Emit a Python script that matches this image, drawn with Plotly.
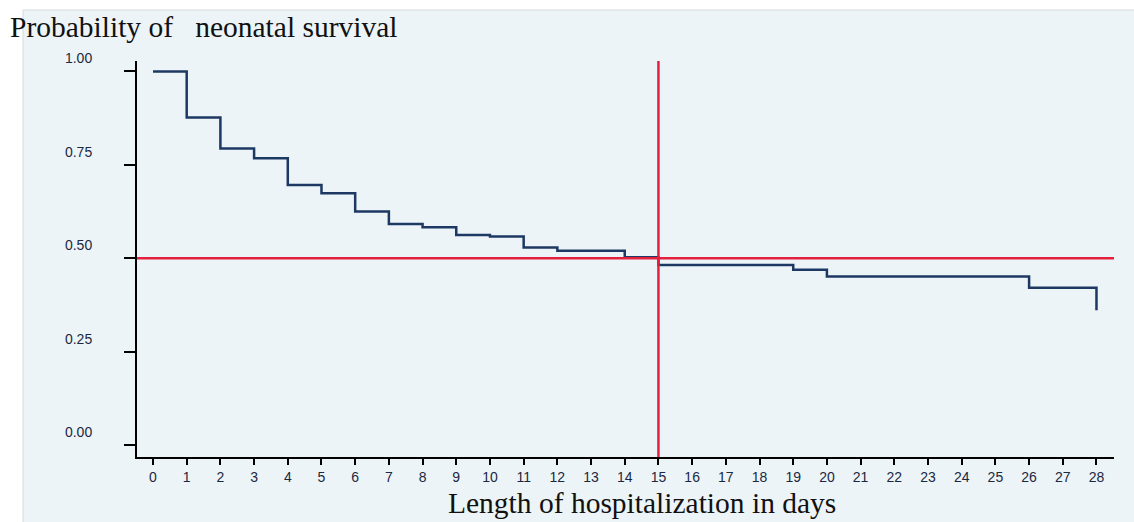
import plotly.graph_objects as go

# Data
days = list(range(0, 29))
survival = [1.000, 0.877, 0.794, 0.768, 0.696, 0.674, 0.625, 0.592, 0.583, 0.562,
            0.558, 0.529, 0.520, 0.520, 0.503, 0.482, 0.482, 0.482, 0.482, 0.469,
            0.451, 0.451, 0.451, 0.451, 0.451, 0.451, 0.421, 0.421, 0.361]
y_ticks = [0.0, 0.25, 0.5, 0.75, 1.0]
y_tick_labels = ["0.00", "0.25", "0.50", "0.75", "1.00"]
x_ticks = list(range(0, 29))
median_day = 15
median_prob = 0.5

W, H = 1134, 522
L, R, T, B = 137, 20, 61, 65
pw, ph = W - L - R, H - T - B

def px(xpix):
    return (xpix - L) / pw

def py(ypix):
    return (H - B - ypix) / ph

fig = go.Figure()
fig.add_trace(go.Scatter(x=days, y=survival, mode="lines", line_shape="hv",
                         line=dict(color="#1d3963", width=2.5), showlegend=False,
                         hoverinfo="skip"))

shapes = [
    # light blue background panel
    dict(type="rect", xref="paper", yref="paper", x0=px(23), x1=px(W + 5), y0=py(H + 5), y1=py(10),
         fillcolor="#ecf4f7", line=dict(color="#d3dbde", width=1), layer="below"),
    # median lines
    dict(type="line", xref="paper", yref="y", x0=0, x1=1, y0=median_prob, y1=median_prob,
         line=dict(color="#e3203e", width=2.5)),
    dict(type="line", xref="x", yref="paper", x0=median_day, x1=median_day, y0=0, y1=1,
         line=dict(color="#e3203e", width=2.5)),
]

annotations = [
    dict(xref="paper", yref="paper", x=px(8), y=py(27), xanchor="left", yanchor="middle",
         text="Probability of\u00a0\u00a0\u00a0neonatal survival", showarrow=False,
         font=dict(family="Liberation Serif", size=29.5, color="#111111")),
    dict(xref="paper", yref="paper", x=px(642), y=py(503), xanchor="center", yanchor="middle",
         text="Length of hospitalization in days", showarrow=False,
         font=dict(family="Liberation Serif", size=29.5, color="#111111")),
]

fig.update_layout(
    width=W, height=H,
    margin=dict(l=L, r=R, t=T, b=B, pad=0),
    paper_bgcolor="white",
    plot_bgcolor="rgba(0,0,0,0)",
    shapes=shapes,
    annotations=annotations,
    xaxis=dict(range=[-0.475, 28.52], tickmode="array", tickvals=x_ticks,
               ticktext=[str(d) for d in x_ticks],
               showgrid=False, zeroline=False, showline=True, linecolor="black", linewidth=2,
               ticks="outside", ticklen=6, tickwidth=2, tickcolor="black",
               tickfont=dict(family="Liberation Sans", size=14, color="#1b2842"),
               ticklabelstandoff=0),
    yaxis=dict(range=[-0.032, 1.028], tickmode="array", tickvals=y_ticks, ticktext=y_tick_labels,
               showgrid=False, zeroline=False, showline=True, linecolor="black", linewidth=2,
               ticks="outside", ticklen=11, tickwidth=2, tickcolor="black",
               tickfont=dict(family="Liberation Sans", size=14, color="#1b2842"),
               ticklabelstandoff=29, ticklabelshift=-13),
)

fig.write_html("out.html")
